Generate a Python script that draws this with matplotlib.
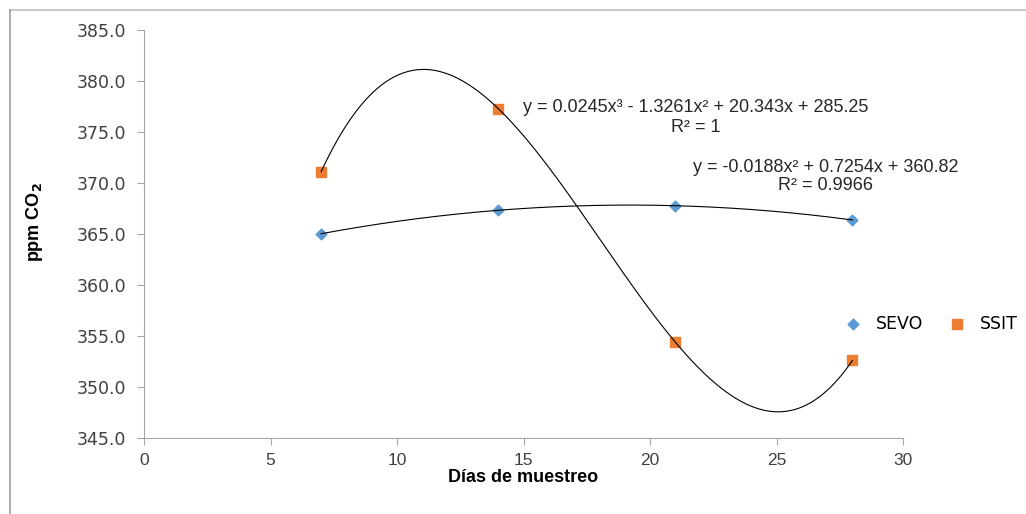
import numpy as np
import matplotlib
matplotlib.use('Agg')
from matplotlib import pyplot as plt
from matplotlib.lines import Line2D

# data
dias = [7, 14, 21, 28]
sevo = [365.0, 367.4, 367.7, 366.4]
ssit = [371.1, 377.3, 354.4, 352.6]

eq_ssit = 'y = 0.0245x³ - 1.3261x² + 20.343x + 285.25'
r2_ssit = 'R² = 1'
eq_sevo = 'y = -0.0188x² + 0.7254x + 360.82'
r2_sevo = 'R² = 0.9966'

c_sevo = '#5B9BD5'
c_ssit = '#ED7D31'
grey = '#A6A6A6'

W, H = 1026, 514
fig = plt.figure(figsize=(W / 100, H / 100), dpi=100)
ax = fig.add_axes([144 / W, 1 - 438 / H, 759 / W, 408 / H])

# trendlines (excel style polynomial fits)
xs = np.linspace(dias[0], dias[-1], 300)
p_sevo = np.polyfit(dias, sevo, 2)
p_ssit = np.polyfit(dias, ssit, 3)

ax.scatter(dias, sevo, marker='D', s=30, color=c_sevo, label='SEVO', zorder=2)
ax.scatter(dias, ssit, marker='s', s=55, color=c_ssit, label='SSIT', zorder=2)
ax.plot(xs, np.polyval(p_sevo, xs), color='black', lw=0.8, zorder=3)
ax.plot(xs, np.polyval(p_ssit, xs), color='black', lw=0.8, zorder=3)

ax.set_xlim(0, 30)
ax.set_ylim(345, 385)
ax.set_xticks(np.arange(0, 31, 5))
ax.set_yticks(np.arange(345, 386, 5))
ax.set_yticklabels(['%.1f' % v for v in np.arange(345, 386, 5)])

for s in ['top', 'right']:
    ax.spines[s].set_visible(False)
for s in ['left', 'bottom']:
    ax.spines[s].set_color(grey)
ax.tick_params(axis='both', direction='out', length=5, color=grey)
ax.tick_params(axis='y', labelsize=12.5, pad=8, labelcolor='#404040')
ax.tick_params(axis='x', labelsize=12.5, pad=6, labelcolor='#404040')
for lab in ax.get_xticklabels():
    lab.set_family('Liberation Sans')

ax.set_xlabel('Días de muestreo', family='Liberation Sans', fontweight='bold', fontsize=13)
ax.xaxis.set_label_coords(0.5, -0.075)
ax.set_ylabel(r'ppm CO$_\mathbf{2}$', family='Liberation Sans', fontweight='bold', fontsize=13)
ax.yaxis.set_label_coords(-0.13, 0.53)

# trendline equations, placed in pixel positions of the reference
def fig_text(px, py, s):
    fig.text(px / W, 1 - py / H, s, ha='center', va='center', fontsize=13,
             family='Liberation Sans', color='#262626')

fig_text(696, 107, eq_ssit)
fig_text(696, 127, r2_ssit)
fig_text(826, 167, eq_sevo)
fig_text(826, 186, r2_sevo)

fig.legend(loc='center left', bbox_to_anchor=(829 / W, 1 - 324 / H), ncol=2, frameon=False,
           fontsize=12.5, handletextpad=0.3, columnspacing=0.95, borderaxespad=0)

# frame around the chart area
fig.add_artist(Line2D([10 / W, 1.0], [1 - 10 / H, 1 - 10 / H], color='#BFBFBF', lw=1.2))
fig.add_artist(Line2D([10 / W, 10 / W], [0.0, 1 - 10 / H], color='#A0A0A0', lw=1.2))

fig.savefig('out.png', dpi=100)
